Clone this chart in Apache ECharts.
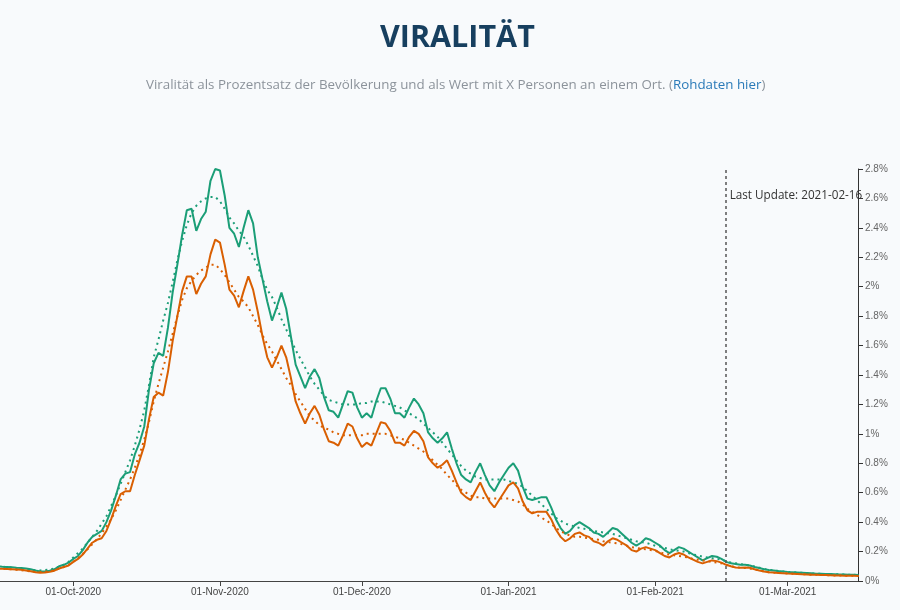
<!DOCTYPE html>
<html>
<head>
<meta charset="utf-8">
<script src="https://cdn.jsdelivr.net/npm/echarts@6/dist/echarts.min.js"></script>
<style>
  html, body { margin: 0; padding: 0; background: #f8fafc; }
  #chart { width: 900px; height: 610px; }
</style>
</head>
<body>
<div id="chart"></div>
<script>
// ---- data (percent of population), daily from 2020-09-15 ----
const startDate = '2020-09-15';
const tickDates = ['2020-10-01', '2020-11-01', '2020-12-01', '2021-01-01', '2021-02-01', '2021-03-01'];
const lastUpdate = '2021-02-16';
const yTicks = [0, 0.2, 0.4, 0.6, 0.8, 1, 1.2, 1.4, 1.6, 1.8, 2, 2.2, 2.4, 2.6, 2.8];

const greenRaw = [
0.100,0.097,0.095,0.093,0.090,0.088,0.085,0.080,0.072,0.065,
0.065,0.070,0.080,0.100,0.110,0.125,
0.15,0.17,0.21,0.26,0.30,0.32,0.34,0.40,0.48,0.58,
0.69,0.73,0.74,0.86,0.94,1.05,1.30,1.48,1.55,1.53,
1.72,1.96,2.15,2.35,2.52,2.53,2.38,2.46,2.51,2.72,
2.80,2.79,2.62,2.40,2.36,2.27,2.40,2.52,2.43,2.20,
2.05,1.90,1.77,1.86,1.96,1.85,1.66,1.47,1.39,1.31,
1.39,1.44,1.38,1.25,1.16,1.15,1.11,1.20,1.29,1.28,
1.18,1.11,1.14,1.11,1.22,1.31,1.31,1.24,1.14,1.14,
1.11,1.18,1.24,1.20,1.14,1.01,0.97,0.94,0.97,1.01,
0.90,0.80,0.72,0.69,0.67,0.74,0.80,0.72,0.65,0.61,
0.67,0.72,0.77,0.80,0.75,0.64,0.56,0.55,0.56,0.57,
0.57,0.50,0.42,0.36,0.32,0.34,0.38,0.40,0.38,0.36,
0.33,0.32,0.30,0.33,0.36,0.35,0.32,0.29,0.26,0.24,
0.26,0.29,0.28,0.26,0.24,0.21,0.19,0.21,0.23,0.22,
0.20,0.18,0.16,0.14,0.155,0.17,0.165,0.15,0.13,0.12,
0.115,0.11,0.11,0.105,0.095,0.088,0.080,0.075,0.072,0.068,
0.065,0.062,0.060,0.058,0.056,0.054,0.052,0.050,0.049,0.048,
0.047,0.046,0.045,0.044,0.043,0.042,0.041
];

const greenAvg = [
0.100,0.098,0.095,0.092,0.088,0.084,0.080,0.076,0.073,0.072,
0.074,0.078,0.086,0.097,0.110,0.130,
0.16,0.19,0.22,0.26,0.30,0.34,0.39,0.44,0.51,0.58,
0.66,0.74,0.82,0.92,1.03,1.16,1.33,1.52,1.64,1.77,
1.89,2.03,2.18,2.31,2.42,2.50,2.55,2.58,2.60,2.61,
2.61,2.58,2.53,2.47,2.43,2.38,2.34,2.28,2.21,2.14,
2.05,1.98,1.93,1.86,1.78,1.71,1.64,1.57,1.51,1.45,
1.39,1.34,1.30,1.26,1.23,1.22,1.21,1.20,1.20,1.20,
1.20,1.21,1.21,1.22,1.22,1.22,1.21,1.20,1.19,1.18,
1.16,1.14,1.12,1.10,1.07,1.04,1.01,0.98,0.94,0.90,
0.86,0.82,0.78,0.75,0.73,0.71,0.70,0.69,0.69,0.69,
0.69,0.69,0.68,0.67,0.66,0.64,0.61,0.58,0.55,0.52,
0.49,0.46,0.43,0.41,0.39,0.38,0.37,0.36,0.355,0.35,
0.34,0.335,0.33,0.325,0.32,0.31,0.30,0.29,0.28,0.27,
0.265,0.26,0.25,0.24,0.235,0.225,0.215,0.21,0.205,0.20,
0.19,0.18,0.175,0.165,0.16,0.155,0.15,0.145,0.135,0.125,
0.12,0.115,0.11,0.105,0.098,0.090,0.082,0.076,0.072,0.068,
0.065,0.062,0.060,0.058,0.056,0.054,0.052,0.050,0.049,0.048,
0.047,0.046,0.045,0.044,0.043,0.042,0.041
];

const orangeRaw = [
0.085,0.083,0.082,0.080,0.078,0.076,0.072,0.066,0.060,0.056,
0.057,0.062,0.070,0.085,0.095,0.105,
0.13,0.15,0.18,0.22,0.26,0.28,0.29,0.34,0.42,0.51,
0.59,0.61,0.61,0.72,0.82,0.92,1.10,1.25,1.28,1.26,
1.42,1.63,1.80,1.97,2.07,2.07,1.95,2.02,2.07,2.22,
2.32,2.30,2.15,1.98,1.94,1.86,1.97,2.07,1.98,1.83,
1.66,1.52,1.45,1.52,1.60,1.52,1.38,1.22,1.14,1.07,
1.14,1.19,1.13,1.03,0.95,0.94,0.92,0.99,1.07,1.05,
0.97,0.91,0.94,0.92,1.00,1.08,1.07,1.02,0.94,0.94,
0.92,0.98,1.02,1.00,0.95,0.84,0.80,0.77,0.79,0.82,
0.75,0.67,0.60,0.57,0.55,0.61,0.67,0.60,0.54,0.50,
0.55,0.60,0.65,0.67,0.63,0.54,0.48,0.46,0.47,0.47,
0.47,0.42,0.35,0.30,0.27,0.29,0.32,0.33,0.31,0.30,
0.27,0.26,0.24,0.27,0.29,0.28,0.26,0.24,0.21,0.20,
0.22,0.23,0.22,0.21,0.19,0.17,0.16,0.18,0.19,0.18,
0.16,0.145,0.13,0.12,0.13,0.14,0.135,0.125,0.11,0.10,
0.092,0.09,0.092,0.09,0.08,0.072,0.065,0.06,0.057,0.055,
0.053,0.051,0.05,0.048,0.046,0.045,0.043,0.042,0.041,0.04,
0.039,0.038,0.037,0.036,0.035,0.035,0.034
];

const orangeAvg = [
0.085,0.083,0.081,0.079,0.076,0.073,0.069,0.065,0.062,0.061,
0.062,0.066,0.073,0.083,0.095,0.110,
0.13,0.155,0.185,0.215,0.25,0.285,0.325,0.37,0.42,0.48,
0.55,0.62,0.69,0.77,0.86,0.96,1.08,1.22,1.34,1.45,
1.56,1.68,1.80,1.91,1.99,2.04,2.08,2.11,2.13,2.15,
2.15,2.12,2.08,2.03,1.98,1.93,1.90,1.86,1.80,1.74,
1.67,1.61,1.56,1.50,1.44,1.38,1.33,1.27,1.22,1.17,
1.12,1.09,1.06,1.04,1.03,1.01,1.00,0.99,0.99,0.99,
0.99,0.99,1.00,1.00,1.00,1.00,1.00,0.99,0.98,0.97,
0.96,0.94,0.92,0.90,0.88,0.85,0.82,0.79,0.76,0.72,
0.69,0.65,0.62,0.60,0.58,0.57,0.57,0.56,0.56,0.56,
0.56,0.56,0.56,0.55,0.54,0.52,0.49,0.47,0.45,0.43,
0.41,0.39,0.36,0.34,0.32,0.31,0.30,0.30,0.295,0.29,
0.285,0.28,0.27,0.265,0.26,0.255,0.25,0.24,0.23,0.225,
0.22,0.215,0.21,0.205,0.195,0.185,0.18,0.175,0.17,0.165,
0.16,0.15,0.145,0.14,0.135,0.13,0.125,0.12,0.11,0.10,
0.095,0.09,0.088,0.085,0.078,0.072,0.065,0.06,0.057,0.055,
0.053,0.051,0.05,0.048,0.046,0.045,0.043,0.042,0.041,0.04,
0.039,0.038,0.037,0.036,0.035,0.035,0.034
];

// ---- helpers ----
const DAY = 86400000;
function ts(s) { const p = s.split('-').map(Number); return Date.UTC(p[0], p[1] - 1, p[2]); }
const MONTHS = ['Jan','Feb','Mar','Apr','May','Jun','Jul','Aug','Sep','Oct','Nov','Dec'];
function fmtDate(v) {
  const d = new Date(v);
  const dd = String(d.getUTCDate()).padStart(2, '0');
  return dd + '-' + MONTHS[d.getUTCMonth()] + '-' + d.getUTCFullYear();
}
const t0 = ts(startDate);
function pairs(arr) { return arr.map((v, i) => [t0 + i * DAY, v]); }
const tickTs = tickDates.map(ts);
const oct1 = ts('2020-10-01');

const GREEN = '#1b9e77', ORANGE = '#d95f02';

const chart = echarts.init(document.getElementById('chart'), null, { renderer: 'canvas' });
chart.setOption({
  backgroundColor: '#f8fafc',
  animation: false,
  title: [
    {
      text: 'VIRALITÄT',
      left: 375, top: 18,
      textStyle: { fontFamily: 'Open Sans', fontWeight: 'bold', fontSize: 30.5, color: '#173f5f' }
    },
    {
      text: '{g|Viralität als Prozentsatz der Bevölkerung und als Wert mit X Personen an einem Ort. (}{b|Rohdaten hier}{g|)}',
      left: 141, top: 74,
      textStyle: {
        fontWeight: 'normal',
        rich: {
          g: { fontFamily: 'Open Sans', fontWeight: 'normal', fontSize: 13.35, color: '#8c939b' },
          b: { fontFamily: 'Open Sans', fontWeight: 'normal', fontSize: 13.35, color: '#2a7ab8' }
        }
      }
    }
  ],
  grid: { left: 0, right: 42, top: 169, bottom: 29, containLabel: false },
  xAxis: {
    type: 'value',
    min: oct1 - 15.49 * DAY,
    max: oct1 + 165.86 * DAY,
    splitLine: { show: false },
    axisLine: { show: true, lineStyle: { color: '#444', width: 1 } },
    axisTick: { show: true, customValues: tickTs, length: 5, lineStyle: { color: '#444' } },
    axisLabel: {
      customValues: tickTs, formatter: fmtDate,
      fontFamily: 'Liberation Sans', fontSize: 10, color: '#444', margin: 6
    }
  },
  yAxis: {
    type: 'value',
    position: 'right',
    min: 0, max: 2.8, interval: 0.2,
    splitLine: { show: false },
    axisLine: { show: true, lineStyle: { color: '#333', width: 1 } },
    axisTick: { show: true, length: 5, lineStyle: { color: '#333' } },
    axisLabel: {
      formatter: v => (Math.round(v * 10) / 10) + '%',
      fontFamily: 'Liberation Sans', fontSize: 10, color: '#666', margin: 7
    }
  },
  series: [
    {
      name: 'green', type: 'line', data: pairs(greenRaw), showSymbol: false,
      lineStyle: { color: GREEN, width: 2 }, itemStyle: { color: GREEN },
      markLine: {
        silent: true, symbol: ['none', 'none'],
        lineStyle: { color: '#555', type: [3, 3], width: 1.5 },
        label: { show: false },
        data: [{ xAxis: ts(lastUpdate) }]
      },
      markPoint: {
        symbol: 'circle', symbolSize: 1,
        itemStyle: { color: 'rgba(0,0,0,0)' },
        label: {
          show: true, position: 'right', distance: 3,
          formatter: 'Last Update: ' + lastUpdate,
          fontFamily: 'Open Sans', fontSize: 11.7, color: '#333'
        },
        data: [{ coord: [ts(lastUpdate), 2.62] }]
      }
    },
    {
      name: 'green avg', type: 'line', data: pairs(greenAvg), showSymbol: false,
      lineStyle: { color: GREEN, width: 2, type: [2, 4] }, itemStyle: { color: GREEN }
    },
    {
      name: 'orange', type: 'line', data: pairs(orangeRaw), showSymbol: false,
      lineStyle: { color: ORANGE, width: 2 }, itemStyle: { color: ORANGE }
    },
    {
      name: 'orange avg', type: 'line', data: pairs(orangeAvg), showSymbol: false,
      lineStyle: { color: ORANGE, width: 2, type: [2, 4] }, itemStyle: { color: ORANGE }
    }
  ]
});
</script>
</body>
</html>
